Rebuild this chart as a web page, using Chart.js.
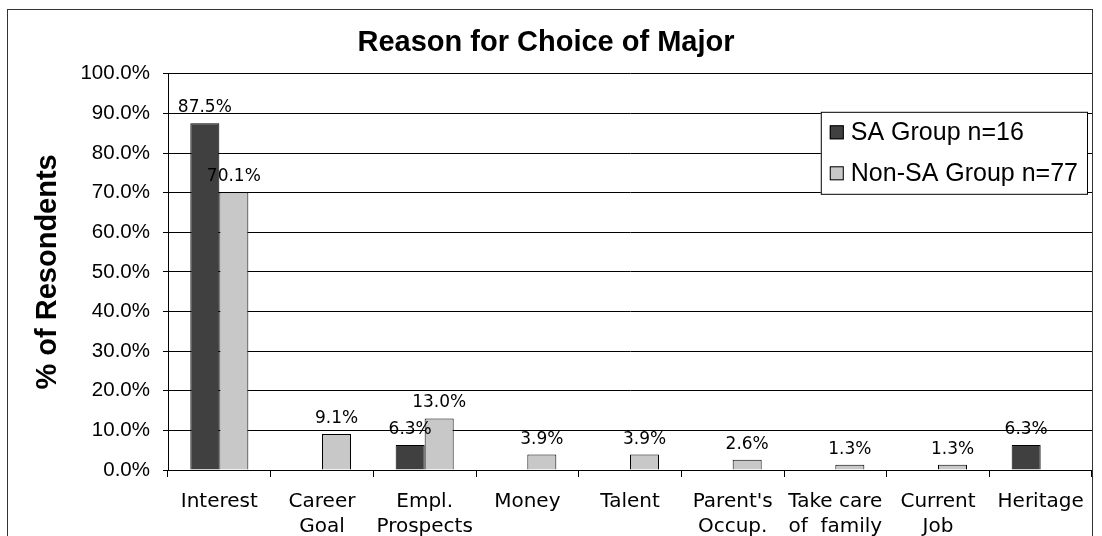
<!DOCTYPE html>
<html>
<head>
<meta charset="utf-8">
<script src="https://cdn.jsdelivr.net/npm/chart.js@4"></script>
<style>
  html, body { margin: 0; padding: 0; background: #fff; }
  #wrap { position: relative; width: 1102px; height: 536px; overflow: hidden; }
  #frame {
    position: absolute; left: 7px; top: 9px; width: 1086px; height: 600px;
    border: 1px solid #333; box-sizing: border-box; pointer-events: none;
  }
  canvas { position: absolute; left: 0; top: 0; }
</style>
</head>
<body>
<div id="wrap">
  <canvas id="majorChart" width="1102" height="536"></canvas>
  <div id="frame"></div>
</div>
<script>
const reasons = [
    "Interest", ["Career", "Goal"], ["Empl.", "Prospects"], "Money", "Talent",
    ["Parent's", "Occup."], ["Take care", "of  family"], ["Current", "Job"], "Heritage"
];
const saGroup = [87.5, null, 6.3, null, null, null, null, null, 6.3];
const nonSaGroup = [70.1, 9.1, 13.0, 3.9, 3.9, 2.6, 1.3, 1.3, null];
const yTicks = [0, 10, 20, 30, 40, 50, 60, 70, 80, 90, 100];

// percent labels sitting above each bar
const valueLabels = {
    id: "valueLabels",
    afterDatasetsDraw(chart) {
        const ctx = chart.ctx;
        ctx.save();
        ctx.font = "17px 'DejaVu Sans'";
        ctx.fillStyle = "#000";
        ctx.textAlign = "center";
        ctx.textBaseline = "alphabetic";
        chart.data.datasets.forEach((ds, i) => {
            chart.getDatasetMeta(i).data.forEach((bar, j) => {
                const v = ds.data[j];
                if (v === null) return;
                ctx.fillText(v.toFixed(1) + "%", bar.x, bar.y - 11);
            });
        });
        ctx.restore();
    }
};

// boxed legend inside the plot, top right
const boxLegend = {
    id: "boxLegend",
    afterDraw(chart) {
        const ctx = chart.ctx;
        const area = chart.chartArea;
        ctx.save();
        ctx.font = "25px 'Liberation Sans', Arial, sans-serif";
        const textW = Math.max(...chart.data.datasets.map(ds => ctx.measureText(ds.label).width));
        const rowH = 41, sw = 14;
        const w = 9 + sw + 7 + textW + 9;
        const h = rowH * chart.data.datasets.length;
        const x = area.right - 5 - w;
        const y = area.top + 38;
        ctx.fillStyle = "#fff";
        ctx.fillRect(x, y, w, h);
        ctx.strokeStyle = "#000";
        ctx.lineWidth = 1;
        ctx.strokeRect(x + 0.5, y + 0.5, w, h);
        ctx.textBaseline = "middle";
        chart.data.datasets.forEach((ds, i) => {
            const cy = y + rowH * i + rowH / 2;
            ctx.fillStyle = ds.backgroundColor;
            ctx.fillRect(x + 9, cy - sw / 2, sw, sw);
            ctx.strokeRect(x + 9.5, cy - sw / 2 + 0.5, sw - 1, sw - 1);
            ctx.fillStyle = "#000";
            ctx.fillText(ds.label, x + 9 + sw + 7, cy + 1);
        });
        ctx.restore();
    }
};

new Chart(document.getElementById("majorChart"), {
    type: "bar",
    data: {
        labels: reasons,
        datasets: [
            {
                label: "SA Group n=16",
                data: saGroup,
                backgroundColor: "#404040",
                borderColor: "#000",
                borderWidth: 1
            },
            {
                label: "Non-SA Group n=77",
                data: nonSaGroup,
                backgroundColor: "#c8c8c8",
                borderColor: "#000",
                borderWidth: 1
            }
        ]
    },
    options: {
        responsive: false,
        animation: false,
        categoryPercentage: 0.565,
        barPercentage: 1,
        layout: { padding: { left: 0, right: 10, top: 0, bottom: 0 } },
        plugins: {
            legend: { display: false },
            tooltip: { enabled: false },
            title: {
                display: true,
                text: "Reason for Choice of Major",
                color: "#000",
                font: { family: "'Liberation Sans', Arial, sans-serif", size: 29, weight: "bold" },
                padding: { top: 26, bottom: 13 }
            }
        },
        scales: {
            x: {
                afterFit: scale => { scale.height = 66; },
                grid: { display: true, drawOnChartArea: false, color: "#000", tickLength: 7, offset: true },
                border: { color: "#000" },
                ticks: {
                    color: "#000",
                    padding: 12,
                    maxRotation: 0,
                    autoSkip: false,
                    font: { family: "'DejaVu Sans'", size: 20, lineHeight: 1.25 }
                }
            },
            y: {
                min: 0,
                max: 100,
                afterFit: scale => { scale.width = 168; },
                afterBuildTicks: scale => { scale.ticks = yTicks.map(v => ({ value: v })); },
                grid: { color: "#000", tickLength: 5 },
                border: { color: "#000" },
                ticks: {
                    color: "#000",
                    padding: 13,
                    font: { family: "'Liberation Sans', Arial, sans-serif", size: 20.5 },
                    callback: v => v.toFixed(1) + "%"
                },
                title: {
                    display: true,
                    text: "% of Resondents",
                    color: "#000",
                    padding: { top: 31, bottom: 0 },
                    font: { family: "'Liberation Sans', Arial, sans-serif", size: 29, weight: "bold" }
                }
            }
        }
    },
    plugins: [valueLabels, boxLegend]
});
</script>
</body>
</html>
